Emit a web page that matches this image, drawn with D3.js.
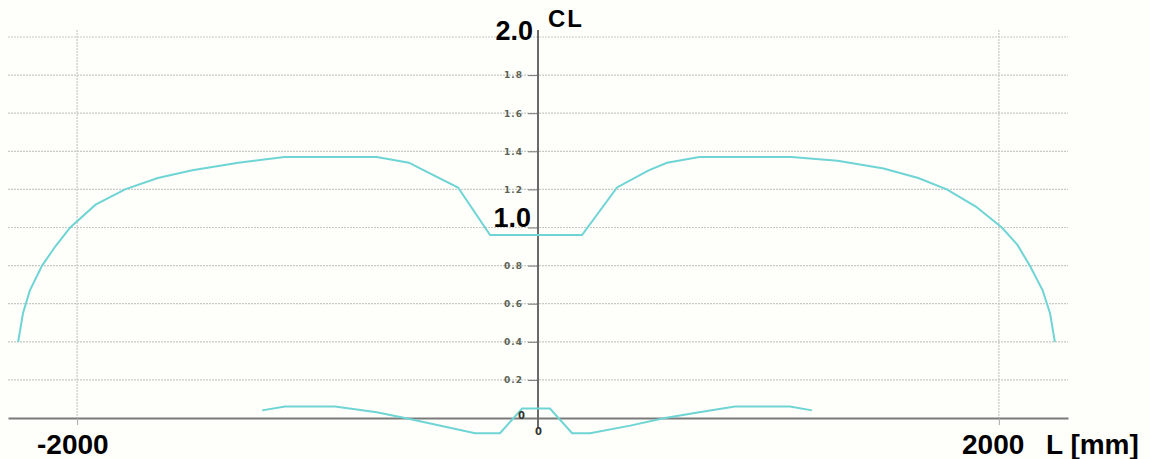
<!DOCTYPE html>
<html>
<head>
<meta charset="utf-8">
<script src="https://cdn.jsdelivr.net/npm/d3@7"></script>
<style>
  body { margin: 0; background: #fff; }
  svg { display: block; }
</style>
</head>
<body>
<div id="chart"></div>
<script>
// upper curve (CL along the span)
const upperL  = [-2256, -2235, -2205, -2152, -2095, -2030, -1920, -1792, -1650, -1500, -1300, -1100, -900, -700, -560, -512, -347, -208, 191, 343, 480, 560, 700, 900, 1100, 1300, 1500, 1650, 1774, 1900, 2013, 2080, 2134, 2190, 2222, 2243];
const upperCL = [0.40, 0.55, 0.67, 0.80, 0.90, 1.00, 1.12, 1.20, 1.26, 1.30, 1.34, 1.37, 1.37, 1.37, 1.34, 1.31, 1.21, 0.96, 0.96, 1.21, 1.30, 1.34, 1.37, 1.37, 1.37, 1.35, 1.31, 1.26, 1.20, 1.11, 1.00, 0.91, 0.80, 0.67, 0.55, 0.40];

// lower curve
const lowerL  = [-1197, -1098, -881, -700, -577, -273, -165, -69, 52, 148, 226, 400, 551, 700, 855, 1093, 1189];
const lowerCL = [0.04, 0.06, 0.06, 0.03, 0.0, -0.08, -0.08, 0.05, 0.05, -0.08, -0.08, -0.04, 0.0, 0.03, 0.06, 0.06, 0.04];

const yTicks = [0.2, 0.4, 0.6, 0.8, 1.0, 1.2, 1.4, 1.6, 1.8];
const gridY = [0.2, 0.4, 0.6, 0.8, 1.0, 1.2, 1.4, 1.6, 1.8, 2.0];
const gridX = [-2000, 2000];

const W = 1150, H = 459;
const svg = d3.select('#chart').append('svg').attr('width', W).attr('height', H);

svg.append('rect').attr('width', W).attr('height', H).attr('fill', '#fefefb');

const x = d3.scaleLinear().domain([-2300, 2300]).range([8, 1068]);
const y = d3.scaleLinear().domain([0, 2]).range([418, 37]);

// grid
svg.append('g').selectAll('line').data(gridY).join('line')
  .attr('x1', x(-2300)).attr('x2', x(2300))
  .attr('y1', d => y(d)).attr('y2', d => y(d))
  .attr('stroke', '#c8c8c4').attr('stroke-width', 1.2).attr('stroke-dasharray', '2,1');

svg.append('g').selectAll('line').data(gridX).join('line')
  .attr('x1', d => x(d)).attr('x2', d => x(d))
  .attr('y1', 30).attr('y2', y(0))
  .attr('stroke', '#c8c8c4').attr('stroke-width', 1.2).attr('stroke-dasharray', '2,1');

// x axis
const xAxis = svg.append('g').attr('transform', `translate(0,${y(0)})`)
  .call(d3.axisBottom(x).tickValues(gridX).tickSize(7).tickSizeOuter(0).tickFormat(''));
xAxis.select('.domain').attr('stroke', '#7a7a7a').attr('stroke-width', 2.2);
xAxis.selectAll('.tick line').attr('stroke', '#aaa');

// y axis
const yAxis = svg.append('g').attr('transform', `translate(${x(0)},0)`)
  .call(d3.axisLeft(y).tickValues(yTicks).tickSize(10).tickFormat(d3.format('.1f')));
yAxis.select('.domain').remove();
yAxis.selectAll('.tick line').attr('stroke', '#777');
yAxis.selectAll('.tick text')
  .attr('font-family', 'DejaVu Sans, sans-serif').attr('font-size', 9).attr('font-weight', 'bold')
  .attr('letter-spacing', 1)
  .attr('fill', '#5c6355').attr('x', -15)
  .text(d => (d === 1.0) ? '' : d3.format('.1f')(d));

svg.append('line')
  .attr('x1', x(0)).attr('x2', x(0)).attr('y1', 30).attr('y2', 428)
  .attr('stroke', '#6a6a6a').attr('stroke-width', 2);

// curves
const line = d3.line().x(d => x(d[0])).y(d => y(d[1]));
svg.append('path').datum(d3.zip(upperL, upperCL)).attr('d', line)
  .attr('fill', 'none').attr('stroke', '#6fd4d4').attr('stroke-width', 2);
svg.append('path').datum(d3.zip(lowerL, lowerCL)).attr('d', line)
  .attr('fill', 'none').attr('stroke', '#6fd4d4').attr('stroke-width', 2);

// small zero labels
svg.append('text').attr('x', x(0) - 20).attr('y', y(0) + 1).text('0')
  .attr('font-family', 'DejaVu Sans, sans-serif').attr('font-size', 10).attr('font-weight', 'bold').attr('fill', '#333');
svg.append('text').attr('x', x(0) - 3).attr('y', y(0) + 17).text('0')
  .attr('font-family', 'DejaVu Sans, sans-serif').attr('font-size', 10).attr('font-weight', 'bold').attr('fill', '#333');

// big labels
const big = (t, xx, yy, size, anchor) => svg.append('text').attr('x', xx).attr('y', yy).text(t)
  .attr('font-family', 'Liberation Sans, Arial, sans-serif').attr('font-weight', 'bold')
  .attr('font-size', size).attr('fill', '#000').attr('text-anchor', anchor || 'start');

big('2.0', 533, 40, 27, 'end');
big('1.0', 531, 227, 27, 'end');
big('CL', 548, 27, 24).attr('letter-spacing', 2);
big('-2000', 37, 454, 28);
big('2000', 962, 454, 28);
big('L [mm]', 1046, 454, 28);
</script>
</body>
</html>
